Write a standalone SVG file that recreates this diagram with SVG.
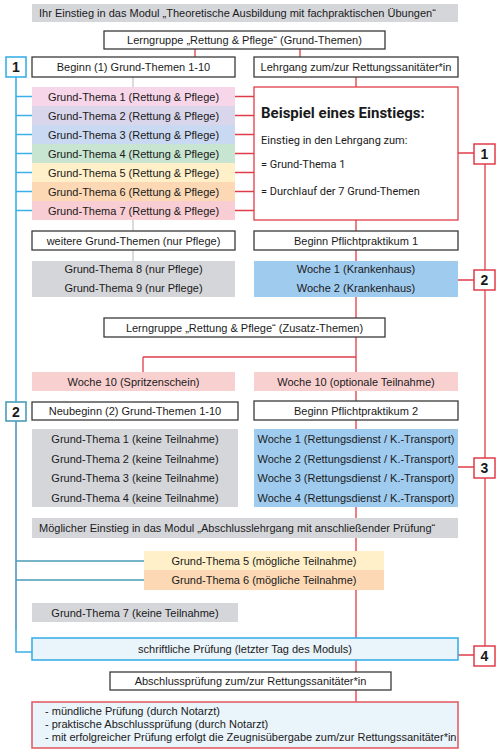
<svg xmlns="http://www.w3.org/2000/svg" width="500" height="755" viewBox="0 0 500 755">
<style>
text{font-family:"Liberation Sans",Arial,sans-serif;font-size:11px;fill:#1a1a1a}
.c{text-anchor:middle}
.box{fill:#fff;stroke:#3a3a3a;stroke-width:1.3}
.gray{fill:#d5d6da}
.blue{fill:#9fcbef}
.red{fill:none;stroke:#e03c48;stroke-width:1.3}
.bl{fill:none;stroke:#3bb0e6;stroke-width:1.6}
.bl2{fill:none;stroke:#4a9cb8;stroke-width:1.6}
.gl{fill:none;stroke:#c8c8c8;stroke-width:1.3}
.rnum{fill:#fff;stroke:#e03c48;stroke-width:1.5}
.bnum{fill:#fff;stroke:#3bb0e6;stroke-width:1.6}
.num{font-weight:bold;font-size:14px;text-anchor:middle}
.rb{font-family:Roboto,"Liberation Sans",sans-serif;font-size:11px}
</style>
<g id="connectors">
<path class="red" d="M195 49V57M300 49V57M356 77V87M356 220V231M356 250V261M356 297V318M356 337V357M143 357H356V372M143 357V372M356 391V401M356 420V429M356 507V518M356 538V638M356 660V672M356 690V702"/>
<path class="red" d="M235 96.5H254M235 115.5H254M235 134.5H254M235 153.5H254M235 172.5H254M235 191.5H254M235 210.5H254"/>
<path class="red" d="M458 153H474M458 280H474M458 467H474M458 655H474M485 164V270M485 290V458M485 478V646"/>
<path class="gl" d="M133 77V87M133 220V231M133 250V261"/>
<path class="bl" d="M16 77V402M16 96.5H32M16 115.5H32M16 134.5H32M16 153.5H32M16 172.5H32M16 191.5H32M16 210.5H32M16 630V652H32"/>
<path class="bl2" d="M16 421V630M16 561H144M16 580H144"/>
</g>
<g id="banner1"><rect class="gray" x="32" y="4" width="426" height="18"/><text x="39" y="17">Ihr Einstieg in das Modul „Theoretische Ausbildung mit fachpraktischen Übungen“</text></g>
<g id="lerngruppe1"><rect class="box" x="104" y="31" width="281" height="18"/><text class="c" x="244.5" y="44">Lerngruppe „Rettung &amp; Pflege“ (Grund-Themen)</text></g>
<g id="beginn1"><rect class="box" x="32" y="57" width="203" height="20"/><text class="c" x="133.5" y="71">Beginn (1) Grund-Themen 1-10</text></g>
<g id="lehrgang"><rect class="box" x="254" y="57" width="204" height="20"/><text class="c" x="356" y="71">Lehrgang zum/zur Rettungssanitäter*in</text></g>
<g id="gt1"><rect x="32" y="87" width="203" height="19" fill="#f8d6ea"/><text class="c" x="133.5" y="100.5">Grund-Thema 1 (Rettung &amp; Pflege)</text></g>
<g id="gt2"><rect x="32" y="106" width="203" height="19" fill="#d9d6ec"/><text class="c" x="133.5" y="119.5">Grund-Thema 2 (Rettung &amp; Pflege)</text></g>
<g id="gt3"><rect x="32" y="125" width="203" height="19" fill="#cad9f2"/><text class="c" x="133.5" y="138.5">Grund-Thema 3 (Rettung &amp; Pflege)</text></g>
<g id="gt4"><rect x="32" y="144" width="203" height="19" fill="#c7e5d0"/><text class="c" x="133.5" y="157.5">Grund-Thema 4 (Rettung &amp; Pflege)</text></g>
<g id="gt5"><rect x="32" y="163" width="203" height="19" fill="#fff0c9"/><text class="c" x="133.5" y="176.5">Grund-Thema 5 (Rettung &amp; Pflege)</text></g>
<g id="gt6"><rect x="32" y="182" width="203" height="19" fill="#fcd8b5"/><text class="c" x="133.5" y="195.5">Grund-Thema 6 (Rettung &amp; Pflege)</text></g>
<g id="gt7"><rect x="32" y="201" width="203" height="19" fill="#f8cdd3"/><text class="c" x="133.5" y="214.5">Grund-Thema 7 (Rettung &amp; Pflege)</text></g>
<g id="beispiel"><rect x="254" y="87" width="204" height="133" fill="#fff" stroke="#e03c48" stroke-width="1.3"/>
<text x="261" y="118" style="font-family:Roboto,'Liberation Sans',sans-serif;font-weight:bold;font-size:15px">Beispiel eines Einstiegs:</text>
<text class="rb" x="261" y="144">Einstieg in den Lehrgang zum:</text>
<text class="rb" x="261" y="168">= Grund-Thema 1</text>
<text class="rb" x="261" y="195">= Durchlauf der 7 Grund-Themen</text></g>
<g id="n1b"><rect class="bnum" x="6" y="57" width="20" height="20"/><text class="num" x="16" y="72">1</text></g>
<g id="n1r"><rect class="rnum" x="474" y="144" width="21" height="20"/><text class="num" x="484.5" y="159">1</text></g>
<g id="weitere"><rect class="box" x="32" y="231" width="203" height="19"/><text class="c" x="133.5" y="244.5">weitere Grund-Themen (nur Pflege)</text></g>
<g id="pp1"><rect class="box" x="254" y="231" width="204" height="19"/><text class="c" x="356" y="244.5">Beginn Pflichtpraktikum 1</text></g>
<g id="gt89"><rect class="gray" x="32" y="261" width="203" height="36"/><text class="c" x="133.5" y="273">Grund-Thema 8 (nur Pflege)</text><text class="c" x="133.5" y="292">Grund-Thema 9 (nur Pflege)</text></g>
<g id="woche12"><rect class="blue" x="254" y="261" width="204" height="36"/><text class="c" x="356" y="273">Woche 1 (Krankenhaus)</text><text class="c" x="356" y="292">Woche 2 (Krankenhaus)</text></g>
<g id="n2r"><rect class="rnum" x="474" y="270" width="21" height="20"/><text class="num" x="484.5" y="285">2</text></g>
<g id="lerngruppe2"><rect class="box" x="104" y="318" width="281" height="19"/><text class="c" x="244.5" y="331.5">Lerngruppe „Rettung &amp; Pflege“ (Zusatz-Themen)</text></g>
<g id="w10a"><rect x="32" y="372" width="203" height="19" fill="#f9d0d0"/><text class="c" x="133.5" y="385.5">Woche 10 (Spritzenschein)</text></g>
<g id="w10b"><rect x="254" y="372" width="204" height="19" fill="#f9d0d0"/><text class="c" x="356" y="385.5">Woche 10 (optionale Teilnahme)</text></g>
<g id="n2b"><rect x="6" y="402" width="20" height="19" fill="#fff" stroke="#4a9cb8" stroke-width="1.6"/><text class="num" x="16" y="417">2</text></g>
<g id="neubeginn"><rect class="box" x="32" y="402" width="206" height="18"/><text class="c" x="135" y="415">Neubeginn (2) Grund-Themen 1-10</text></g>
<g id="pp2"><rect class="box" x="254" y="401" width="204" height="19"/><text class="c" x="356" y="414.5">Beginn Pflichtpraktikum 2</text></g>
<g id="gtk14"><rect class="gray" x="32" y="429" width="206" height="78"/>
<text class="c" x="135" y="443">Grund-Thema 1 (keine Teilnahme)</text>
<text class="c" x="135" y="462.5">Grund-Thema 2 (keine Teilnahme)</text>
<text class="c" x="135" y="482">Grund-Thema 3 (keine Teilnahme)</text>
<text class="c" x="135" y="501.5">Grund-Thema 4 (keine Teilnahme)</text></g>
<g id="woche14"><rect class="blue" x="254" y="429" width="204" height="78"/>
<text class="c" x="356" y="443">Woche 1 (Rettungsdienst / K.-Transport)</text>
<text class="c" x="356" y="462.5">Woche 2 (Rettungsdienst / K.-Transport)</text>
<text class="c" x="356" y="482">Woche 3 (Rettungsdienst / K.-Transport)</text>
<text class="c" x="356" y="501.5">Woche 4 (Rettungsdienst / K.-Transport)</text></g>
<g id="n3r"><rect class="rnum" x="474" y="458" width="21" height="20"/><text class="num" x="484.5" y="473">3</text></g>
<g id="banner2"><rect class="gray" x="32" y="518" width="426" height="20"/><text x="39" y="532">Möglicher Einstieg in das Modul „Abschlusslehrgang mit anschließender Prüfung“</text></g>
<g id="gt5m"><rect x="144" y="551" width="240" height="19" fill="#fff0c9"/><text class="c" x="264" y="564.5">Grund-Thema 5 (mögliche Teilnahme)</text></g>
<g id="gt6m"><rect x="144" y="570" width="240" height="20" fill="#fcd8b5"/><text class="c" x="264" y="584">Grund-Thema 6 (mögliche Teilnahme)</text></g>
<g id="gt7k"><rect class="gray" x="32" y="603" width="206" height="19"/><text class="c" x="135" y="616.5">Grund-Thema 7 (keine Teilnahme)</text></g>
<g id="schriftlich"><rect x="32" y="638" width="426" height="22" fill="#eaf4fb" stroke="#3bb0e6" stroke-width="1.6"/><text class="c" x="245" y="653">schriftliche Prüfung (letzter Tag des Moduls)</text></g>
<g id="n4r"><rect class="rnum" x="474" y="646" width="21" height="20"/><text class="num" x="484.5" y="661">4</text></g>
<g id="abschluss"><rect class="box" x="110" y="672" width="281" height="18"/><text class="c" x="250.5" y="685">Abschlussprüfung zum/zur Rettungssanitäter*in</text></g>
<g id="final"><rect x="32" y="702" width="426" height="46" fill="#eaf4fb" stroke="#e06068" stroke-width="1.6"/>
<text x="45" y="715">- mündliche Prüfung (durch Notarzt)</text>
<text x="45" y="728">- praktische Abschlussprüfung (durch Notarzt)</text>
<text x="45" y="741">- mit erfolgreicher Prüfung erfolgt die Zeugnisübergabe zum/zur Rettungssanitäter*in</text></g>
</svg>
